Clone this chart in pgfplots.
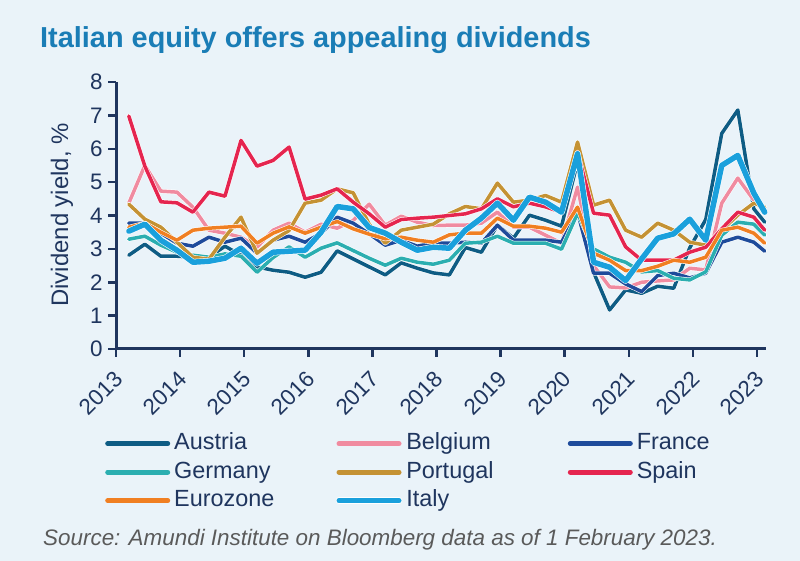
\documentclass[border=0pt]{standalone}
\usepackage{pgfplots}
\pgfplotsset{compat=1.18}
\usepackage{pgfplotstable}
\usepackage{fontspec}
\setmainfont{Liberation Sans}
\definecolor{bg}{HTML}{EAF3F9}
\definecolor{titleblue}{HTML}{1A7DB6}
\definecolor{navy}{HTML}{1F355E}
\definecolor{srcgray}{HTML}{5A5A5A}
\definecolor{caut}{HTML}{0E5C84}
\definecolor{cbel}{HTML}{F08BA0}
\definecolor{cfra}{HTML}{1E4B9B}
\definecolor{cger}{HTML}{2BAEB0}
\definecolor{cpor}{HTML}{C49234}
\definecolor{cspa}{HTML}{E5254F}
\definecolor{ceur}{HTML}{F07F22}
\definecolor{cita}{HTML}{1AA0DC}

\pgfplotstableread{
x aut bel fra ger por spa eur ita
2013.20 2.81 4.37 3.77 3.29 4.34 6.98 3.65 3.53
2013.45 3.14 5.50 3.77 3.38 3.89 5.48 3.77 3.74
2013.70 2.78 4.73 3.47 3.11 3.65 4.41 3.50 3.26
2013.95 2.78 4.70 3.17 2.90 3.20 4.38 3.26 2.96
2014.20 2.75 4.25 3.08 2.81 2.75 4.10 3.56 2.60
2014.45 2.75 3.56 3.35 2.75 2.69 4.70 3.62 2.63
2014.70 3.08 3.47 3.20 2.85 3.35 4.58 3.65 2.72
2014.95 2.81 3.35 3.32 2.78 3.95 6.25 3.68 3.02
2015.20 2.46 3.05 2.87 2.30 2.87 5.48 3.17 2.57
2015.45 2.36 3.56 3.26 2.74 3.26 5.65 3.47 2.90
2015.70 2.30 3.77 3.38 3.06 3.55 6.05 3.66 2.93
2015.95 2.15 3.50 3.20 2.75 4.37 4.49 3.47 2.96
2016.20 2.30 3.74 3.47 3.02 4.46 4.61 3.65 3.50
2016.45 2.94 3.62 3.95 3.18 4.80 4.80 3.82 4.27
2016.70 2.70 3.85 3.77 2.95 4.68 4.40 3.60 4.20
2016.95 2.46 4.34 3.45 2.72 3.74 4.05 3.44 3.64
2017.20 2.22 3.71 3.11 2.51 3.17 3.65 3.30 3.47
2017.45 2.58 3.98 3.26 2.72 3.56 3.88 3.35 3.20
2017.70 2.42 3.80 3.08 2.60 3.65 3.92 3.26 2.96
2017.95 2.28 3.70 3.18 2.54 3.74 3.95 3.20 3.05
2018.20 2.22 3.71 3.17 2.66 4.05 4.00 3.42 3.02
2018.45 3.04 3.71 3.20 3.17 4.27 4.05 3.47 3.56
2018.70 2.90 3.77 3.17 3.20 4.20 4.20 3.47 3.92
2018.95 3.71 4.10 3.71 3.38 4.97 4.50 3.92 4.37
2019.20 3.32 3.65 3.26 3.17 4.40 4.26 3.68 3.86
2019.45 4.01 3.65 3.26 3.17 4.46 4.37 3.68 4.55
2019.70 3.86 3.41 3.26 3.17 4.60 4.26 3.62 4.40
2019.95 3.68 3.17 3.20 2.99 4.40 4.10 3.50 4.10
2020.20 5.60 4.85 4.10 4.07 6.20 5.90 4.25 5.85
2020.45 2.30 2.50 2.27 3.00 4.31 4.07 2.87 2.60
2020.70 1.17 1.86 2.27 2.75 4.46 4.01 2.66 2.45
2020.95 1.77 1.83 1.95 2.60 3.56 3.06 2.35 2.05
2021.20 1.67 2.00 1.72 2.31 3.35 2.66 2.35 2.70
2021.45 1.88 2.04 2.20 2.35 3.77 2.66 2.48 3.32
2021.70 1.82 2.07 2.27 2.12 3.56 2.66 2.66 3.45
2021.95 3.03 2.42 2.13 2.07 3.20 2.90 2.60 3.89
2022.20 3.88 2.37 2.27 2.31 3.11 3.05 2.75 3.26
2022.45 6.46 4.37 3.20 3.41 3.56 3.60 3.56 5.50
2022.70 7.16 5.12 3.35 3.80 4.01 4.10 3.65 5.80
2022.95 4.20 4.46 3.20 3.74 4.37 3.95 3.47 4.67
2023.12 3.80 4.10 2.93 3.41 4.25 3.56 3.17 4.10
}\datatable

\begin{document}
\begin{tikzpicture}
\fill[bg] (0bp,0bp) rectangle (800bp,561bp);
\node[anchor=base west, inner sep=0pt, font=\fontsize{29}{34}\selectfont\bfseries, text=titleblue] at (40bp,513bp) {Italian equity offers appealing dividends};
\begin{axis}[
  at={(116bp,212bp)}, anchor=south west, scale only axis,
  width=650bp, height=267bp,
  xmin=2013, xmax=2023.14, ymin=0, ymax=8,
  clip=false,
  axis x line=bottom, axis y line=left,
  axis line style={draw=navy, line width=3bp, -},
  xtick={2013,...,2023}, ytick={0,...,8},
  tick align=outside, major tick length=8bp,
  tick style={draw=navy, line width=2.5bp},
  /pgf/number format/1000 sep={},
  /pgf/number format/assume math mode=true,
  ticklabel style={font=\fontsize{22.5}{26}\selectfont, text=navy},
  xticklabel style={xshift=5bp, yshift=-16bp, rotate=45, anchor=east},
  yticklabel style={xshift=-2bp},
  no markers,
  every axis plot/.append style={line join=round, line cap=round},
  legend columns=3,
  legend style={at={(-0.0215,-0.305)}, anchor=north west, draw=none, fill=none,
    font=\fontsize{23.5}{27}\selectfont, text=navy,
    nodes={inner sep=0pt, text height=17bp, text depth=5bp, text width=150bp, align=left},
    row sep=6.5bp,
    /tikz/every odd column/.append style={column sep=4bp},
    /tikz/every even column/.append style={column sep=11.5bp}},
  legend image code/.code={\draw[#1, line width=5bp] (0bp,0bp) -- (60bp,0bp);},
]
\addplot[caut, line width=3.5bp, preaction={draw=white, line width=4.6bp}] table[x=x,y=aut]{\datatable}; \addlegendentry{Austria}
\addplot[cbel, line width=3.5bp, preaction={draw=white, line width=4.6bp}] table[x=x,y=bel]{\datatable}; \addlegendentry{Belgium}
\addplot[cfra, line width=3.5bp, preaction={draw=white, line width=4.6bp}] table[x=x,y=fra]{\datatable}; \addlegendentry{France}
\addplot[cger, line width=3.5bp, preaction={draw=white, line width=4.6bp}] table[x=x,y=ger]{\datatable}; \addlegendentry{Germany}
\addplot[cpor, line width=3.5bp, preaction={draw=white, line width=4.6bp}] table[x=x,y=por]{\datatable}; \addlegendentry{Portugal}
\addplot[cspa, line width=3.5bp, preaction={draw=white, line width=4.6bp}] table[x=x,y=spa]{\datatable}; \addlegendentry{Spain}
\addplot[ceur, line width=3.5bp, preaction={draw=white, line width=4.6bp}] table[x=x,y=eur]{\datatable}; \addlegendentry{Eurozone}
\addplot[cita, line width=5.5bp, preaction={draw=white, line width=6.6bp}] table[x=x,y=ita]{\datatable}; \addlegendentry{Italy}
\end{axis}
\node[rotate=90, font=\fontsize{24}{28}\selectfont, text=navy] at (62bp,346bp) {Dividend yield, \%};
\node[anchor=base west, inner sep=0pt, font=\fontsize{22.5}{26}\selectfont\itshape, text=srcgray] at (43bp,16bp) {Source: Amundi Institute on Bloomberg data as of 1 February 2023.};
\end{tikzpicture}
\end{document}
